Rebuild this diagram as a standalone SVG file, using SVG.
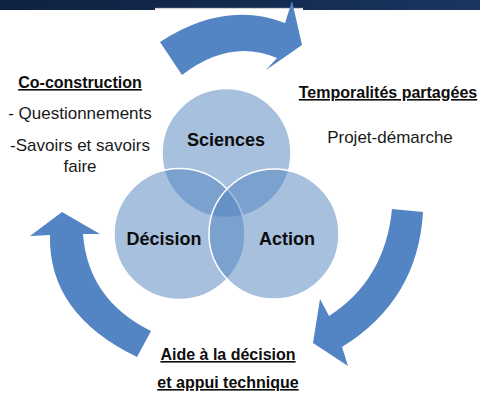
<svg xmlns="http://www.w3.org/2000/svg" width="480" height="399" viewBox="0 0 480 399">
<defs>
<linearGradient id="band" x1="0" y1="0" x2="1" y2="0">
<stop offset="0" stop-color="#0e213f"/>
<stop offset="1" stop-color="#1a3560"/>
</linearGradient>
</defs>
<style>
.circ{fill:#4f81bd;fill-opacity:0.5;stroke:#ffffff;stroke-width:1.5}
.arrow{fill:#5384c4}
.lbl{font-family:"Liberation Sans",Arial,sans-serif;font-weight:bold;font-size:18px;fill:#0d0d0d;text-anchor:middle}
.head{font-family:"Liberation Sans",Arial,sans-serif;font-weight:bold;font-size:16px;fill:#0d0d0d;text-anchor:middle;text-decoration:underline}
.body{font-family:"Liberation Sans",Arial,sans-serif;font-size:17px;fill:#1a1a1a;text-anchor:middle}
</style>
<rect width="480" height="399" fill="#ffffff"/>
<rect x="0" y="0" width="480" height="10" fill="url(#band)"/>
<rect x="155" y="8" width="148" height="2" fill="#ffffff"/>
<line x1="155" y1="8.3" x2="303" y2="8.3" stroke="#b8bcc4" stroke-width="0.8"/>
<g id="connectors">
<path class="arrow" d="M160,42 Q225,0 285,23 L292,1 L302,45 L266,70 L277,58 Q230,38 182,75 Z"/>
<path class="arrow" d="M392,209 L423,212 Q418,300 342,347 L348,366 L313,343 L320,299 L329,316 Q385,280 392,209 Z"/>
<path class="arrow" d="M62,212 L100,234 L83,234 Q88,300 151,331 L137,357 Q48,314 50,235 L30,236 Z"/>
</g>
<g id="node-sciences">
<circle class="circ" cx="226.5" cy="153" r="64.5"/>
</g>
<g id="node-decision">
<circle class="circ" cx="179.5" cy="234" r="65.5"/>
</g>
<g id="node-action">
<circle class="circ" cx="274" cy="234" r="65"/>
</g>
<g id="labels-circles">
<text class="lbl" x="226" y="146" font-size="17.5">Sciences</text>
<text class="lbl" x="164" y="245">Décision</text>
<text class="lbl" x="287" y="245">Action</text>
</g>
<g id="node-coconstruction">
<text class="head" x="80" y="88">Co-construction</text>
<text class="body" x="80" y="119">- Questionnements</text>
<text class="body" x="80" y="151" font-size="16.5">-Savoirs et savoirs</text>
<text class="body" x="80" y="172">faire</text>
</g>
<g id="node-temporalites">
<text class="head" x="388" y="98">Temporalités partagées</text>
<text class="body" x="390" y="143">Projet-démarche</text>
</g>
<g id="node-aide">
<text class="head" x="228" y="360">Aide à la décision</text>
<text class="head" x="228" y="388">et appui technique</text>
</g>
</svg>
